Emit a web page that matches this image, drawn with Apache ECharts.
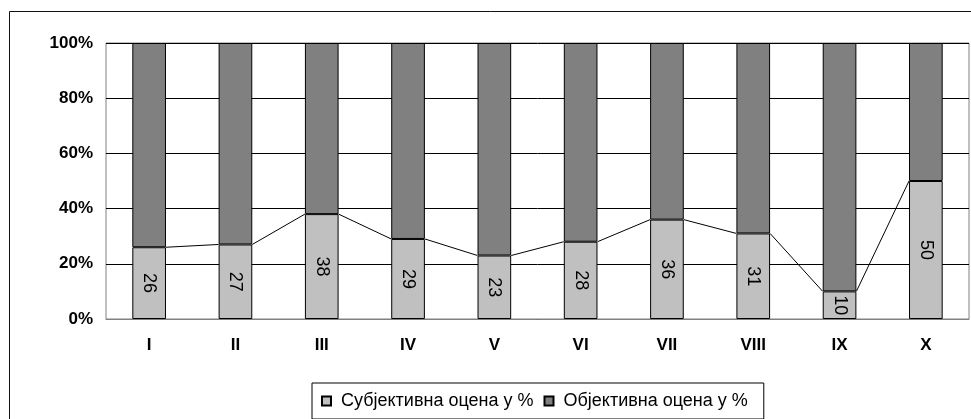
<!DOCTYPE html>
<html><head><meta charset="utf-8">
<script src="https://cdn.jsdelivr.net/npm/echarts@6/dist/echarts.min.js"></script>
<style>html,body{margin:0;padding:0;background:#fff}#c{width:971px;height:419px}</style>
</head><body><div id="c"></div>
<script>
const categories = ['I','II','III','IV','V','VI','VII','VIII','IX','X'];
const subjective = [26, 27, 38, 29, 23, 28, 36, 31, 10, 50];
const objective  = [74, 73, 62, 71, 77, 72, 64, 69, 90, 50];
const seriesNames = ['Субјективна оцена у %', 'Објективна оцена у %'];

const BAR_RATIO = 0.39;
const FONT = '"Liberation Sans", Arial, sans-serif';

// series-line data: each point joined to the next one
const linkData = subjective.slice(0, -1).map((v, i) => [i, v, subjective[i + 1]]);

const chart = echarts.init(document.getElementById('c'), null, {renderer: 'canvas'});
chart.setOption({
  animation: false,
  backgroundColor: '#fff',
  textStyle: {fontFamily: FONT},
  graphic: [{
    type: 'rect', left: 7, top: 9, silent: true, z: -10,
    shape: {width: 1000, height: 500},
    style: {fill: 'none', stroke: '#111', lineWidth: 1}
  }],
  grid: {left: 106, top: 43, right: 2, bottom: 100, show: true, borderColor: '#808080', borderWidth: 1},
  legend: {
    left: 312, top: 383,
    data: seriesNames,
    icon: 'rect', itemWidth: 9, itemHeight: 9, itemGap: 10,
    padding: [9, 16, 9, 9],
    borderColor: '#000', borderWidth: 1,
    textStyle: {fontSize: 18, color: '#000', fontFamily: FONT, padding: [0, 0, 0, 5]}
  },
  xAxis: {
    type: 'category', data: categories,
    axisLine: {show: true, lineStyle: {color: '#808080'}},
    axisTick: {show: false},
    axisLabel: {color: '#000', fontWeight: 'bold', fontSize: 17, margin: 18, fontFamily: FONT}
  },
  yAxis: {
    type: 'value', min: 0, max: 100, interval: 20,
    axisLine: {show: false}, axisTick: {show: false},
    axisLabel: {formatter: '{value}%', color: '#000', fontWeight: 'bold', fontSize: 17, margin: 13, fontFamily: FONT},
    splitLine: {show: true, lineStyle: {color: '#000', width: 1}}
  },
  series: [
    {
      name: seriesNames[0], type: 'bar', stack: 'total', data: subjective,
      barWidth: (BAR_RATIO * 100) + '%',
      itemStyle: {color: '#C0C0C0', borderColor: '#000', borderWidth: 1},
      label: {show: true, position: 'inside', rotate: -90, color: '#000', fontSize: 18, fontFamily: FONT}
    },
    {
      name: seriesNames[1], type: 'bar', stack: 'total', data: objective,
      barWidth: (BAR_RATIO * 100) + '%',
      itemStyle: {color: '#808080', borderColor: '#000', borderWidth: 1}
    },
    {
      type: 'custom', name: 'links', data: linkData, z: 5,
      encode: {x: 0, y: 1},
      renderItem: function (params, api) {
        const i = api.value(0), v = api.value(1), vn = api.value(2);
        const half = api.size([1, 0])[0] * BAR_RATIO / 2;
        const p1 = api.coord([i, v]);
        const p2 = api.coord([i + 1, vn]);
        return {
          type: 'line',
          shape: {x1: p1[0] + half, y1: p1[1], x2: p2[0] - half, y2: p2[1]},
          style: {stroke: '#000', lineWidth: 1}
        };
      }
    }
  ]
});
</script></body></html>
